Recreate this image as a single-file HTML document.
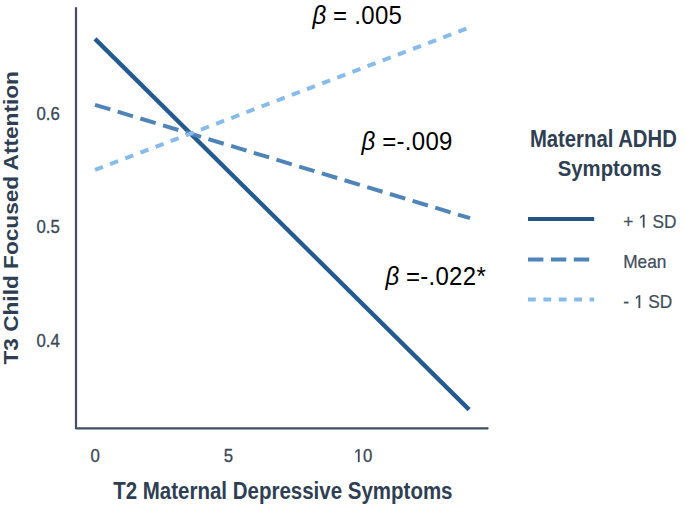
<!DOCTYPE html>
<html>
<head>
<meta charset="utf-8">
<style>
html,body{margin:0;padding:0;background:#fff;}
body{width:685px;height:507px;overflow:hidden;position:relative;}
svg{position:absolute;left:0;top:0;}
text{font-family:"Liberation Sans",sans-serif;}
</style>
</head>
<body>
<svg width="685" height="507" viewBox="0 0 685 507">
  <!-- axes -->
  <path d="M76 7.2 V428.3 H487.6" fill="none" stroke="#405062" stroke-width="2.2" stroke-linejoin="round"/>
  <circle cx="487.6" cy="428.3" r="1.1" fill="#405062"/>

  <!-- data lines -->
  <line x1="95" y1="38.9" x2="469.1" y2="409.6" stroke="#235a90" stroke-width="4.3"/>
  <line x1="95" y1="104.8" x2="470" y2="218.2" stroke="#4f84b9" stroke-width="4" stroke-dasharray="16 7.7"/>
  <line x1="95" y1="169.8" x2="470" y2="27.3" stroke="#86bbea" stroke-width="4" stroke-dasharray="8.5 7.7"/>

  <!-- y tick labels -->
  <g fill="#394757" stroke="#394757" stroke-width="0.3" font-size="16.8" text-anchor="end">
    <text transform="translate(59.8,119.9) scale(1,1.1)">0.6</text>
    <text transform="translate(59.8,233.1) scale(1,1.1)">0.5</text>
    <text transform="translate(59.8,347.4) scale(1,1.1)">0.4</text>
  </g>
  <!-- x tick labels -->
  <g fill="#394757" stroke="#394757" stroke-width="0.3" font-size="16.8" text-anchor="middle">
    <text transform="translate(95.2,461.9) scale(1,1.1)">0</text>
    <text transform="translate(228.5,461.9) scale(1,1.1)">5</text>
    <text transform="translate(363.0,461.9) scale(1,1.1)" text-anchor="start" x="0">0</text>
  </g>

  <path d="M575 0 L575 1237 L257 1010 L257 1180 L590 1409 L756 1409 L756 0 Z" fill="#394757" stroke="#394757" stroke-width="36" transform="translate(353.3,461.9) scale(0.0082031,-0.0090234)"/>
  <!-- axis titles -->
  <text transform="translate(113.2,499.4) scale(1,1.14)" fill="#2f3f53" font-size="20.5" font-weight="bold">T2 Maternal Depressive Symptoms</text>
  <text transform="translate(18.1,364.5) rotate(-90)" fill="#2f3f53" font-size="20.5" font-weight="bold" textLength="293.4" lengthAdjust="spacingAndGlyphs">T3 Child Focused Attention</text>

  <!-- beta annotations -->
  <g fill="#000" font-size="24" letter-spacing="0.3">
    <g transform="translate(0,23.6) scale(1,1.07)">
      <text x="312.5" y="0" font-style="italic">β</text>
      <text x="333.1" y="0">= .005</text>
    </g>
    <g transform="translate(0,150.3) scale(1,1.07)">
      <text x="361.5" y="0" font-style="italic">β</text>
      <text x="382.2" y="0">=-.009</text>
    </g>
    <g transform="translate(0,284.8) scale(1,1.07)">
      <text x="385.5" y="0" font-style="italic">β</text>
      <text x="405.9" y="0">=-.022*</text>
    </g>
  </g>

  <!-- legend -->
  <g fill="#2f3f53" font-size="20.3" font-weight="bold">
    <text transform="translate(529.9,146.6) scale(1,1.14)">Maternal ADHD</text>
    <text transform="translate(557.8,175.5) scale(1,1.13)">Symptoms</text>
  </g>
  <line x1="528" y1="219" x2="594.2" y2="219" stroke="#225686" stroke-width="4.2"/>
  <line x1="528" y1="259.5" x2="594.2" y2="259.5" stroke="#4f84b9" stroke-width="4" stroke-dasharray="15.4 7.5"/>
  <line x1="528" y1="299.5" x2="594.2" y2="299.5" stroke="#86bbea" stroke-width="4" stroke-dasharray="7.8 7.6"/>
  <g fill="#414d5b" stroke="#414d5b" stroke-width="0.2" font-size="17.3">
    <text transform="translate(623.2,227.6) scale(1,1.08)">+</text>
    <text transform="translate(647.73,227.6) scale(1,1.08)" xml:space="preserve" style="white-space:pre"> SD</text>
    <text transform="translate(623.2,267.7) scale(1,1.08)">Mean</text>
    <text transform="translate(623.2,308.1) scale(1,1.08)">-</text>
    <text transform="translate(643.39,308.1) scale(1,1.08)" xml:space="preserve" style="white-space:pre"> SD</text>
    <path d="M575 0 L575 1237 L257 1010 L257 1180 L590 1409 L756 1409 L756 0 Z" stroke-width="30" transform="translate(638.11,227.6) scale(0.0084473,-0.0091231)"/>
    <path d="M575 0 L575 1237 L257 1010 L257 1180 L590 1409 L756 1409 L756 0 Z" stroke-width="30" transform="translate(633.77,308.1) scale(0.0084473,-0.0091231)"/>
  </g>
</svg>
</body>
</html>
